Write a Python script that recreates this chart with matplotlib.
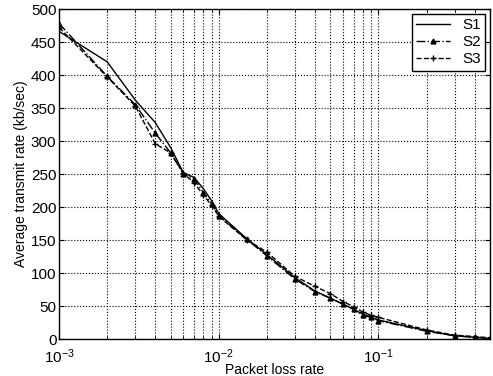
import matplotlib
matplotlib.use("Agg")
import matplotlib.pyplot as plt
from matplotlib.ticker import LogLocator, NullFormatter

plt.rcParams["font.family"] = ["Liberation Sans", "DejaVu Sans"]

loss_rate = [0.001, 0.002, 0.003, 0.004, 0.005, 0.006, 0.007, 0.008, 0.009,
             0.01, 0.015, 0.02, 0.03, 0.04, 0.05, 0.06, 0.07, 0.08, 0.09,
             0.1, 0.2, 0.3, 0.4, 0.5]
s1 = [466, 420, 362, 328, 290, 252, 245, 228, 210, 190, 152, 128, 93, 73,
      62, 53, 45, 38, 33, 29, 13, 5, 3, 1]
s2 = [478, 398, 355, 312, 282, 250, 243, 222, 205, 187, 151, 126, 91, 72,
      62, 53, 45, 36, 33, 28, 12, 5, 3, 1]
s3 = [472, 397, 353, 296, 282, 251, 237, 218, 203, 186, 150, 132, 95, 80,
      69, 57, 49, 41, 36, 33, 14, 6, 4, 2]
y_ticks = list(range(0, 501, 50))


def main():
    fig = plt.figure(figsize=(4.93, 3.76), dpi=100)
    ax = fig.add_axes([0.12, 0.098, 0.874, 0.878])

    ax.semilogx(loss_rate, s1, color="black", linestyle="-", linewidth=1.0, label="S1")
    ax.semilogx(loss_rate, s2, color="black", linestyle="-.", linewidth=1.0,
                marker="^", markersize=3.5, label="S2")
    ax.semilogx(loss_rate, s3, color="black", linestyle="--", linewidth=1.0,
                marker="+", markersize=5, label="S3")

    ax.set_xlim(0.001, 0.5)
    ax.set_ylim(0, 500)
    ax.set_yticks(y_ticks)
    ax.xaxis.set_major_locator(LogLocator(base=10))
    ax.xaxis.set_minor_locator(LogLocator(base=10, subs=range(2, 10)))
    ax.xaxis.set_minor_formatter(NullFormatter())

    ax.grid(True, which="major", linestyle=":", color="black", linewidth=0.8)
    ax.grid(True, which="minor", axis="x", linestyle=":", color="black", linewidth=0.8)
    ax.tick_params(which="both", direction="in", top=True, right=True,
                   labelsize=11, colors="black")
    ax.tick_params(axis="x", pad=6)
    ax.tick_params(axis="y", pad=2)
    for spine in ax.spines.values():
        spine.set_linewidth(1.0)

    ax.set_xlabel("Packet loss rate", fontsize=10, labelpad=-2)
    ax.set_ylabel("Average transmit rate (kb/sec)", fontsize=10, labelpad=2)

    leg = ax.legend(loc="upper right", fontsize=11, fancybox=False,
                    framealpha=1, edgecolor="black", handlelength=2.2,
                    borderpad=0.3, labelspacing=0.2, borderaxespad=0.3)
    leg.get_frame().set_linewidth(1.0)

    fig.savefig("out.png", dpi=100)
    plt.close(fig)


if __name__ == "__main__":
    main()
